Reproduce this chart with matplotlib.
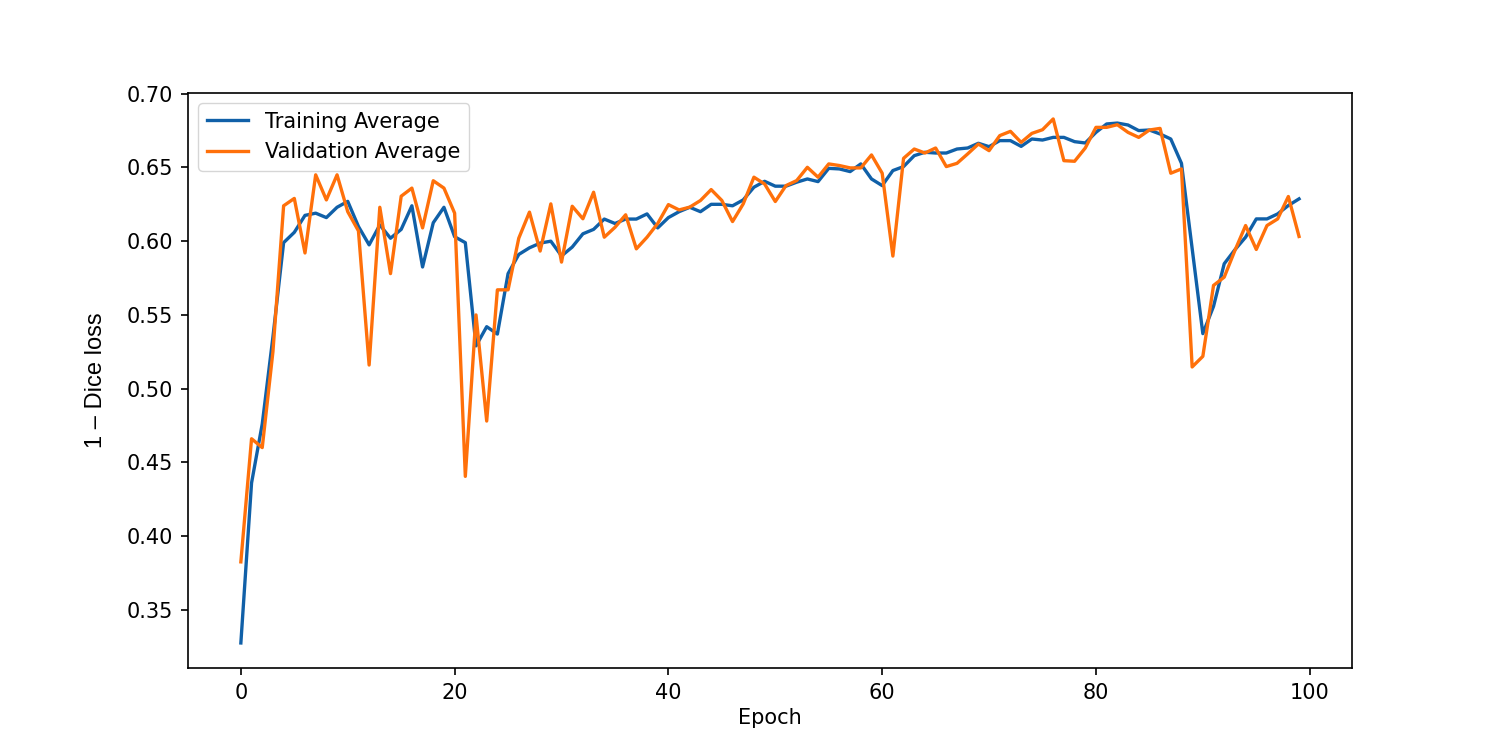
import numpy as np
import matplotlib
matplotlib.use("Agg")
import matplotlib.pyplot as plt

# Данные по эпохам (значения 1 - Dice loss)
epochs = list(range(100))

training_avg = [
    0.3275, 0.436, 0.476, 0.535, 0.599, 0.606, 0.6175, 0.619, 0.616, 0.623,
    0.627, 0.610, 0.5975, 0.611, 0.602, 0.608, 0.624, 0.5825, 0.6125, 0.623,
    0.603, 0.599, 0.529, 0.542, 0.537, 0.578, 0.591, 0.5955, 0.5987, 0.600,
    0.590, 0.596, 0.605, 0.608, 0.615, 0.612, 0.615, 0.615, 0.6185, 0.609,
    0.616, 0.620, 0.623, 0.620, 0.625, 0.625, 0.624, 0.628, 0.6366, 0.6406,
    0.6373, 0.6373, 0.640, 0.6422, 0.6404, 0.6494, 0.649, 0.6472, 0.6524, 0.6422,
    0.6377, 0.6479, 0.6506, 0.658, 0.6603, 0.6598, 0.6598, 0.6625, 0.6632, 0.6664,
    0.6641, 0.6682, 0.6682, 0.6643, 0.6693, 0.6686, 0.6704, 0.6704, 0.6675, 0.6666,
    0.6738, 0.6795, 0.6801, 0.6788, 0.675, 0.6754, 0.6727, 0.6693, 0.6528, 0.595,
    0.5373, 0.5558, 0.5847, 0.5942, 0.6027, 0.6151, 0.6151, 0.6185, 0.6242, 0.6287,
]

validation_avg = [
    0.3825, 0.466, 0.460, 0.525, 0.624, 0.629, 0.592, 0.645, 0.628, 0.645,
    0.620, 0.607, 0.516, 0.623, 0.578, 0.6305, 0.636, 0.609, 0.641, 0.636,
    0.619, 0.4405, 0.550, 0.478, 0.567, 0.567, 0.602, 0.6197, 0.5933, 0.6253,
    0.5858, 0.6237, 0.6152, 0.6332, 0.6027, 0.6094, 0.6179, 0.5948, 0.6027, 0.612,
    0.6248, 0.6212, 0.6231, 0.6276, 0.635, 0.6276, 0.6133, 0.6253, 0.6434, 0.6388,
    0.6269, 0.6377, 0.6411, 0.6501, 0.6434, 0.6524, 0.6513, 0.6497, 0.6497, 0.6585,
    0.6461, 0.5899, 0.6562, 0.6625, 0.6598, 0.6632, 0.6506, 0.6528, 0.6592, 0.6659,
    0.6614, 0.6716, 0.6745, 0.667, 0.6731, 0.6756, 0.6829, 0.6546, 0.6542, 0.6632,
    0.6772, 0.6772, 0.679, 0.6738, 0.6704, 0.6754, 0.6765, 0.6461, 0.649, 0.5147,
    0.5219, 0.570, 0.5756, 0.5937, 0.6106, 0.5944, 0.6106, 0.6151, 0.6303, 0.6032,
]

series_labels = ["Training Average", "Validation Average"]


def main():
    scale = 1.5  # исходный график был масштабирован
    plt.rcParams["font.family"] = "DejaVu Sans"
    plt.rcParams["font.size"] = 10 * scale
    plt.rcParams["lines.linewidth"] = 1.6 * scale
    plt.rcParams["axes.linewidth"] = 0.8 * scale
    plt.rcParams["xtick.major.width"] = 0.8 * scale
    plt.rcParams["ytick.major.width"] = 0.8 * scale
    plt.rcParams["xtick.major.size"] = 3.5 * scale
    plt.rcParams["ytick.major.size"] = 3.5 * scale
    plt.rcParams["xtick.major.pad"] = 3.5 * scale
    plt.rcParams["ytick.major.pad"] = 3.5 * scale

    fig, ax = plt.subplots(figsize=(15, 7.5), dpi=100)
    fig.subplots_adjust(left=0.1253, right=0.9013, top=0.876, bottom=0.1093)
    ax.plot(epochs, training_avg, color="#1060a8", label=series_labels[0])
    ax.plot(epochs, validation_avg, color="#ff700a", label=series_labels[1])

    ax.set_ylim(0.3105, 0.7005)
    ax.set_yticks(np.arange(0.35, 0.701, 0.05))
    ax.set_xlabel("Epoch", labelpad=4)
    ax.set_ylabel("1 \u2013 Dice loss", family=["Liberation Sans", "DejaVu Sans"],
                  fontsize=17, labelpad=14)
    ax.legend(loc="upper left", borderaxespad=0.5)

    plt.savefig("out.png", dpi=100)


if __name__ == "__main__":
    main()
